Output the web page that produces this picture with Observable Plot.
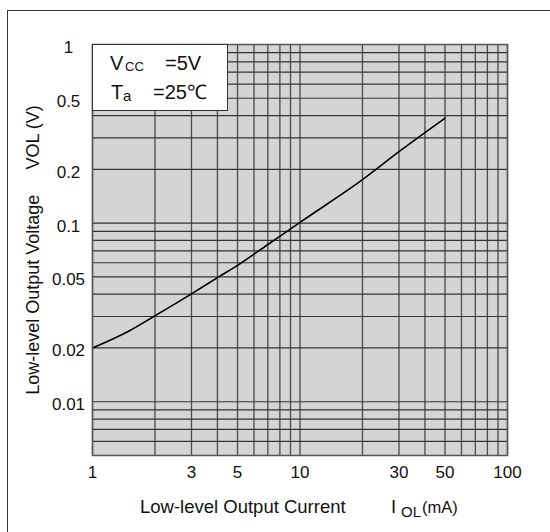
<!DOCTYPE html>
<html>
<head>
<meta charset="utf-8">
<script src="https://cdn.jsdelivr.net/npm/d3@7"></script>
<script src="https://cdn.jsdelivr.net/npm/@observablehq/plot@0.6"></script>
<style>
html, body { margin: 0; padding: 0; background: #fff; overflow: hidden; }
#wrap { position: relative; width: 550px; height: 532px; font-family: "Liberation Sans", Arial, sans-serif; color: #111; }
#border { position: absolute; left: 7px; top: 10px; width: 700px; height: 700px; border-left: 1.5px solid #333; border-top: 1.5px solid #333; pointer-events: none; }
#legend { position: absolute; left: 92px; top: 44px; width: 136px; height: 67px; box-sizing: border-box; background: #fff; border: 1.5px solid #333; }
.t { position: absolute; line-height: 1; white-space: pre; }
#ytitle { position: absolute; left: 33px; top: 250px; transform: translate(-50%, -50%) rotate(-90deg); font-size: 18px; line-height: 1; white-space: pre; }
</style>
</head>
<body>
<div id="wrap">
  <div id="chart"></div>
  <div id="border"></div>
  <div id="legend"></div>
  <span class="t" style="left:110px; top:53px; font-size:20px;">V</span>
  <span class="t" style="left:125px; top:60px; font-size:13px;">CC</span>
  <span class="t" style="left:165px; top:53px; font-size:20px;">=5V</span>
  <span class="t" style="left:111px; top:82px; font-size:20px;">T</span>
  <span class="t" style="left:123px; top:88px; font-size:15px;">a</span>
  <span class="t" style="left:153px; top:82px; font-size:20px;">=25℃</span>
  <div id="ytitle">Low-level Output Voltage     VOL (V)</div>
  <span class="t" style="left:140px; top:498px; font-size:18.5px;">Low-level Output Current</span>
  <span class="t" style="left:391px; top:498px; font-size:18.5px;">I</span>
  <span class="t" style="left:401px; top:504px; font-size:15px;">OL</span>
  <span class="t" style="left:422px; top:499px; font-size:16.5px;">(mA)</span>
</div>
<script>
// Curve: low-level output current (mA) vs output voltage (V)
const currentMA = [1, 1.5, 2, 3, 4, 5, 7, 10, 20, 30, 40, 50];
const voltageV  = [0.02, 0.0249, 0.0303, 0.0402, 0.0495, 0.0580, 0.0759, 0.101, 0.175, 0.251, 0.321, 0.387];

// Tick labels
const xTicks = [1, 3, 5, 10, 30, 50, 100];
const yTicks = [0.01, 0.02, 0.05, 0.1, 0.2, 0.5, 1];

// Log grid lines
const xGrid = [1, 2, 3, 4, 5, 6, 7, 8, 9, 10, 20, 30, 40, 50, 60, 70, 80, 90, 100];
const yGrid = [0.005, 0.006, 0.007, 0.008, 0.009, 0.01, 0.02, 0.03, 0.04, 0.05, 0.06, 0.07, 0.08, 0.09,
               0.1, 0.2, 0.3, 0.4, 0.5, 0.6, 0.7, 0.8, 0.9, 1];

const data = currentMA.map((x, i) => ({x, y: voltageV[i]}));

const chart = Plot.plot({
  width: 550,
  height: 532,
  marginLeft: 92,
  marginRight: 43,
  marginTop: 44,
  marginBottom: 77,
  style: { fontFamily: "Liberation Sans, Arial, sans-serif", fontSize: "17px", color: "#111", background: "transparent" },
  x: { type: "log", domain: [1, 100] },
  y: { type: "log", domain: [0.005, 1] },
  marks: [
    Plot.frame({ fill: "#d4d4d4" }),
    Plot.ruleX(xGrid, { stroke: "#4a4a4a", strokeWidth: 1.3 }),
    Plot.ruleY(yGrid, { stroke: "#333", strokeWidth: 1.2 }),
    Plot.line(data, { x: "x", y: "y", stroke: "#000", strokeWidth: 1.6, curve: "monotone-x" }),
    Plot.frame({ stroke: "#555", strokeWidth: 1.5 }),
    Plot.axisX(xTicks, { tickSize: 0, tickPadding: 10, text: d => String(d), fontSize: 17, label: null }),
    Plot.axisY(yTicks, { tickSize: 0, tickPadding: 24, textAnchor: "middle", dy: 3, text: d => String(d), fontSize: 17, label: null })
  ]
});
document.getElementById("chart").appendChild(chart);
</script>
</body>
</html>
